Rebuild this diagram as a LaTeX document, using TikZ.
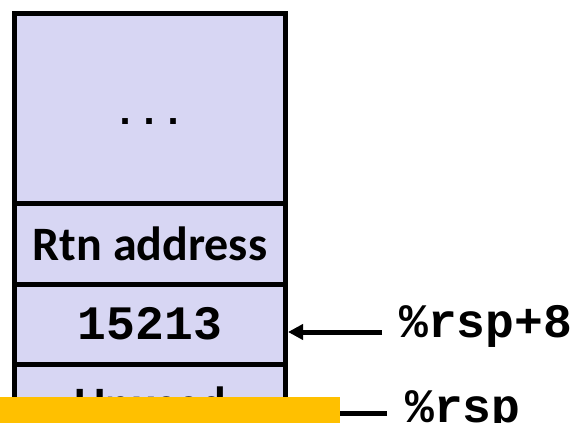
\documentclass[tikz,border=0pt]{standalone}
\usepackage{fontspec}
\newfontfamily\calib{Carlito}
\newfontfamily\cour{Liberation Mono}
\usetikzlibrary{arrows.meta}
\definecolor{cellfill}{RGB}{215,214,243}
\definecolor{gold}{RGB}{255,192,0}
\begin{document}
\begin{tikzpicture}[x=1pt,y=-1pt,
  cell/.style={draw=black, line width=5pt, fill=cellfill, minimum width=271pt, inner sep=0pt},
  sanstxt/.style={font=\calib\bfseries\fontsize{48}{48}\selectfont},
  codetxt/.style={font=\cour\bfseries\fontsize{48}{48}\selectfont},
  dotstxt/.style={font=\cour\bfseries\fontsize{40}{40}\selectfont, inner sep=0pt},
  lbl/.style={codetxt, inner sep=0pt, anchor=base west},
  conn/.style={line width=5pt},
  arr/.style={conn, -{Triangle[length=15pt,width=15pt]}}
]
\useasboundingbox (0,0) rectangle (571,423);
\node[cell, minimum height=190pt] (top) at (150,108) {};
\node[dotstxt, anchor=base] (dots) at (150,124) {...};
\node[cell, minimum height=81pt, sanstxt] (rtn) at (150,243.5) {Rtn address};
\node[cell, minimum height=80pt, codetxt] (val) at (150,324) {15213};
\node[cell, minimum height=80pt, sanstxt] (unused) at (150,404) {Unused};
\node[lbl] (l8) at (399,337) {\%rsp+8};
\node[lbl] (l0) at (405,422) {\%rsp};
\coordinate (t8) at (382,332);
\coordinate (t0) at (387,413);
\draw[arr] (t8) -- (t8 -| val.east);
\node[fill=gold, inner sep=0pt, minimum width=340pt, minimum height=30pt, anchor=north west] (bar) at (0,397) {};
\draw[conn] (t0) -- (t0 -| bar.east);
\end{tikzpicture}
\end{document}
